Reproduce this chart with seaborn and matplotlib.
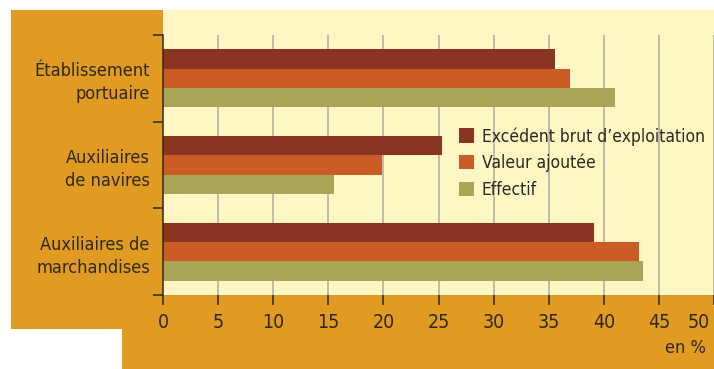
import matplotlib
matplotlib.use("Agg")
import matplotlib.pyplot as plt
import seaborn as sns
import pandas as pd
from matplotlib.patches import Rectangle
from matplotlib.transforms import ScaledTranslation

# Data (in %)
categories = ["Établissement\nportuaire", "Auxiliaires\nde navires", "Auxiliaires de\nmarchandises"]
series = ["Excédent brut d’exploitation", "Valeur ajoutée", "Effectif"]
excedent = [35.6, 25.3, 39.1]
valeur_ajoutee = [36.9, 19.9, 43.2]
effectif = [41.0, 15.5, 43.6]
x_ticks = [0, 5, 10, 15, 20, 25, 30, 35, 40, 45, 50]

colors = ["#8a3522", "#cc5c26", "#a8a556"]
panel_color = "#e19a22"
plot_bg = "#fef6c3"
grid_color = "#b3b1a6"
text_color = "#2c2a1e"

rows = []
for name, vals in zip(series, [excedent, valeur_ajoutee, effectif]):
    for cat, v in zip(categories, vals):
        rows.append({"secteur": cat, "serie": name, "valeur": v})
df = pd.DataFrame(rows)

sns.set_theme(style="white")
plt.rcParams["font.family"] = ["Liberation Sans Narrow", "DejaVu Sans"]
plt.rcParams["font.stretch"] = "condensed"
FS_Y = 13
FS_X = 14
FS_LEG = 12.5

W, H = 714, 369
fig = plt.figure(figsize=(W / 100, H / 100), dpi=100)
fig.patch.set_facecolor("white")


def px_rect(x0, y0, x1, y1, color):
    return Rectangle((x0 / W, 1 - y1 / H), (x1 - x0) / W, (y1 - y0) / H,
                     transform=fig.transFigure, facecolor=color,
                     edgecolor="none", zorder=-1)


# orange frame panels behind the axes
fig.patches.append(px_rect(11, 10, 163, 329, panel_color))
fig.patches.append(px_rect(122, 295, 714, 369, panel_color))

ax = fig.add_axes([163 / W, 1 - 295 / H, (714 - 163) / W, (295 - 10) / H])
ax.set_zorder(2)
ax.set_facecolor(plot_bg)

sns.barplot(data=df, x="valeur", y="secteur", hue="serie", order=categories,
            hue_order=series, palette=colors, saturation=1, width=0.67,
            orient="h", linewidth=0, ax=ax)

ax.set_xlim(0, 50)
ax.set_ylim(2.5, -0.787)

# vertical grid lines only across the category band
ax.vlines(x_ticks[1:], -0.5, 2.5, color=grid_color, lw=1.2, zorder=0.5)

for side in ["top", "right", "bottom"]:
    ax.spines[side].set_visible(False)
ax.spines["left"].set_bounds(-0.5, 2.5)
ax.spines["left"].set_color(text_color)
ax.spines["left"].set_linewidth(1.1)

ax.set_yticks([0, 1, 2], labels=categories)
ax.set_yticks([-0.5, 0.5, 1.5, 2.5], minor=True)
ax.tick_params(axis="y", which="major", left=True, length=0, pad=9.5,
               labelsize=FS_Y, labelcolor=text_color)
ax.tick_params(axis="y", which="minor", left=True, length=7.2, width=1.1,
               color=text_color, direction="out")
for lab in ax.get_yticklabels():
    lab.set_linespacing(1.35)

ax.set_xticks(x_ticks)
ax.tick_params(axis="x", which="major", bottom=True, length=7.2, width=1.1,
               color=text_color, direction="out", pad=6,
               labelsize=FS_X, labelcolor=text_color)
last = ax.get_xticklabels()[-1]
last.set_horizontalalignment("right")
last.set_transform(last.get_transform() + ScaledTranslation(-4 / 100, 0, fig.dpi_scale_trans))

ax.set_xlabel("")
ax.set_ylabel("")

handles, labels = ax.get_legend_handles_labels()
ax.legend(handles, labels, frameon=False, loc="upper left",
          bbox_to_anchor=(459 / W, 1 - 127 / H), bbox_transform=fig.transFigure,
          fontsize=FS_LEG, handlelength=0.88, handleheight=0.88, handletextpad=0.44,
          labelspacing=0.48, borderpad=0, borderaxespad=0,
          labelcolor=text_color)

fig.text(706 / W, 1 - 348 / H, "en %", ha="right", va="center",
         fontsize=FS_Y, color=text_color)

fig.savefig("out.png", dpi=100)
